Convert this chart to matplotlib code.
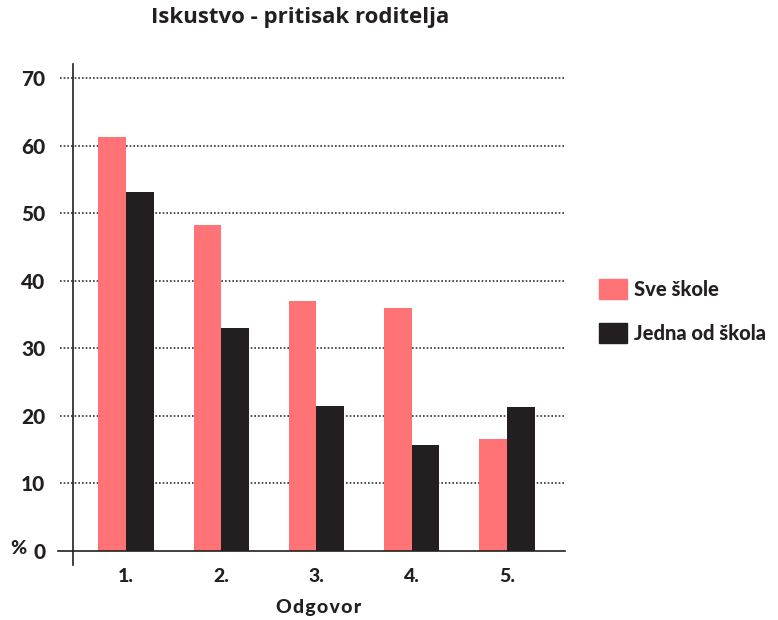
import matplotlib
matplotlib.use("Agg")
import matplotlib.pyplot as plt
import matplotlib.patches as mpatches
import numpy as np

plt.rcParams['font.family'] = ['Lato', 'DejaVu Sans']

# podaci
kategorije = ['1.', '2.', '3.', '4.', '5.']
sve_skole = [61.3, 48.2, 37.0, 36.0, 16.6]
jedna_od_skola = [53.1, 33.0, 21.5, 15.7, 21.3]
y_ticks = [0, 10, 20, 30, 40, 50, 60, 70]

PINK = '#FF7377'
DARK = '#231F20'
W = 'black'

fig = plt.figure(figsize=(7.78, 6.2), dpi=100)
ax = fig.add_axes([73 / 778, 1 - 551 / 620, 492 / 778, 473 / 620])

x = np.arange(len(kategorije))
w = 0.29
ax.bar(x - w / 2, sve_skole, w, color=PINK, zorder=3)
ax.bar(x + w / 2, jedna_od_skola, w, color=DARK, zorder=3)

ax.set_xlim(-0.556, 4.61)
ax.set_ylim(0, 70)

for s in ax.spines.values():
    s.set_visible(False)

trans = ax.get_yaxis_transform()
# isprekidane linije mreze
for t in y_ticks[1:]:
    ax.plot([-0.026, 1], [t, t], transform=trans, color='#333333', lw=1.2,
            ls=(0, (1, 1.2)), clip_on=False, zorder=1)
# nulta linija i y os
ax.plot([-0.03, 1], [0, 0], transform=trans, color=DARK, lw=1.2, clip_on=False, zorder=4)
ax.plot([0, 0], [-0.03, 1.03], transform=ax.transAxes, color=DARK, lw=1.2,
        clip_on=False, zorder=4)

ax.set_yticks(y_ticks)
ax.set_yticklabels([str(t) for t in y_ticks], fontsize=15, fontweight=W, color=DARK)
ax.tick_params(axis='y', length=0, pad=20)
ax.set_xticks(x)
ax.set_xticklabels(kategorije, fontsize=14, fontweight=W, color=DARK)
ax.tick_params(axis='x', length=0, pad=12)

ax.set_xlabel('\u200a'.join('Odgovor'), fontsize=14, fontweight=W, color=DARK, labelpad=10)

fig.text(18 / 778, 1 - 548 / 620, '%', fontsize=14, fontweight=W, color=DARK,
         ha='center', va='center')

fig.text(300 / 778, 1 - 18 / 620, 'Iskustvo - pritisak roditelja', fontsize=16,
         fontweight='bold', color=DARK, ha='center', va='center',
         family=['Open Sans', 'DejaVu Sans'])

# legenda
h1 = mpatches.Patch(color=PINK, label='Sve škole')
h2 = mpatches.Patch(color=DARK, label='Jedna od škola')
leg = fig.legend(handles=[h1, h2], loc='center left', bbox_to_anchor=(581 / 778, 1 - 311 / 620),
                 frameon=False, handlelength=1.4, handleheight=1.2, handletextpad=0.35,
                 labelspacing=1.15, prop={'weight': W, 'size': 14.5})
for t in leg.get_texts():
    t.set_color(DARK)

fig.savefig('out.png', dpi=100)
